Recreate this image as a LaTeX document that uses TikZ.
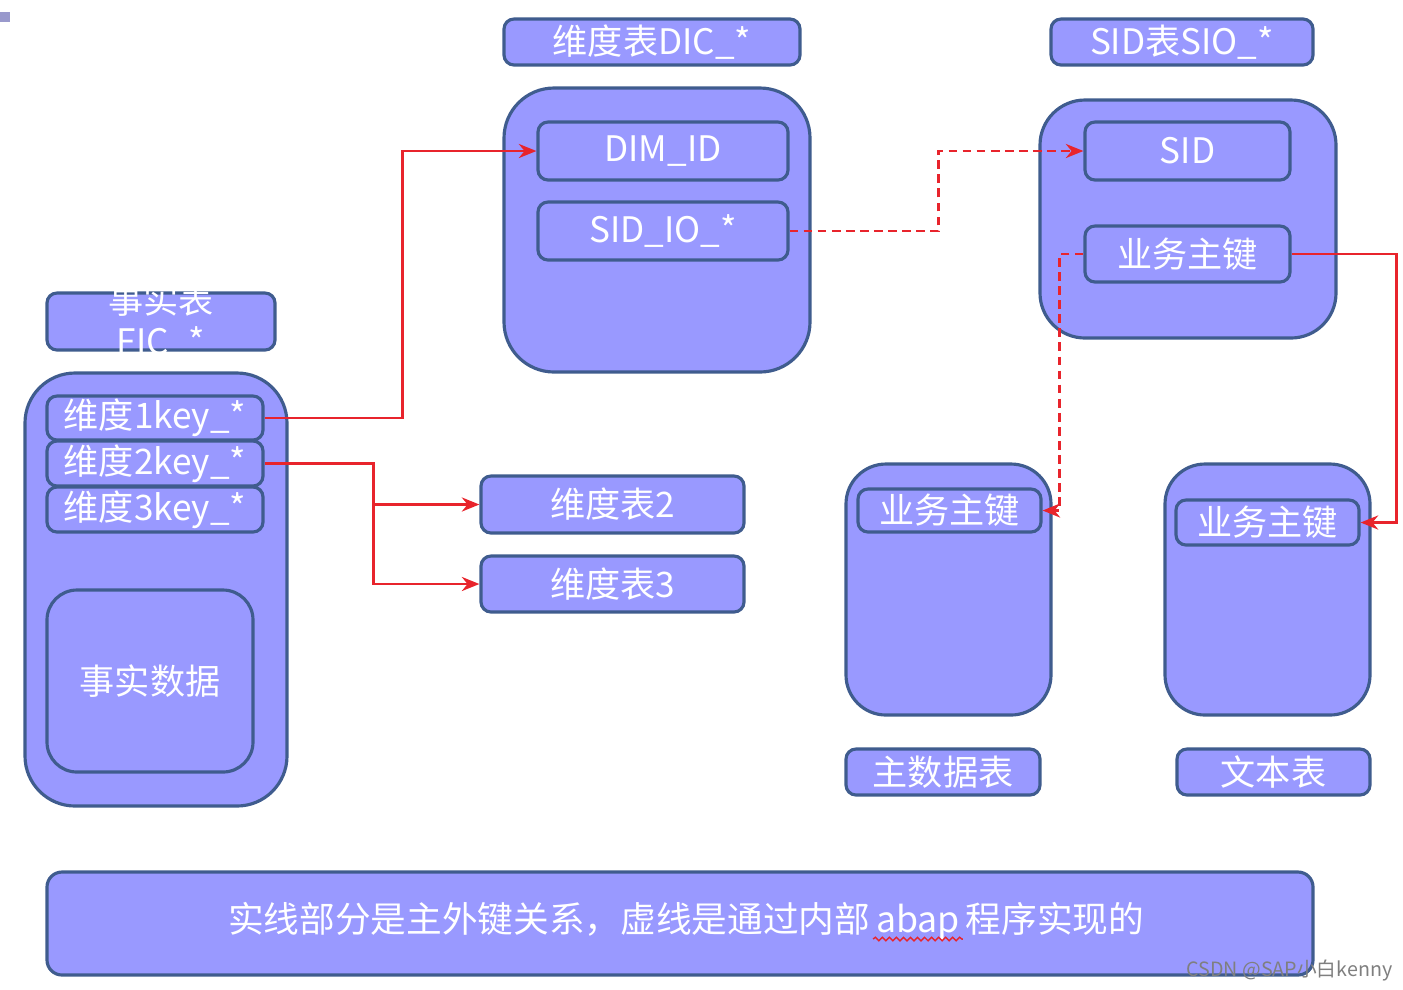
\documentclass[tikz,border=0pt]{standalone}
\usepackage{fontspec}
\setmainfont{Noto Sans CJK SC}
\usetikzlibrary{arrows.meta,decorations.pathmorphing}
\definecolor{boxfill}{HTML}{9999FF}
\definecolor{boxline}{HTML}{3F5C8E}
\definecolor{linkred}{HTML}{E8242C}
\definecolor{markgray}{HTML}{7F7F7F}
\definecolor{cornermark}{HTML}{9999CC}

\begin{document}
\begin{tikzpicture}[font=\fontsize{10}{12}\selectfont, line width=0.9pt,
    tbl/.style={draw=boxline, fill=boxfill, text=white, rounded corners=#1, inner sep=0pt},
    tbl/.default=0.1cm,
    fk/.style={draw=linkred, line width=0.8pt, -{Stealth[length=5pt,width=4pt]}},
    prog/.style={fk, dash pattern=on 2.5pt off 1.5pt},
    notetext/.style={text=white, inner sep=0.4pt, font=\fontsize{10.15}{12}\selectfont}]
        \useasboundingbox (0,0) rectangle (14.03,-9.89);
        \fill[cornermark] (0,-0.12) rectangle (0.10,-0.22);

        % dimension table
        \node[tbl, minimum width=2.96cm, minimum height=0.46cm]
        (dictitle) at (6.52,-0.42) {维度表DIC\_*};
        \node[tbl=0.5cm, minimum width=3.06cm, minimum height=2.84cm]
        (dicbox) at (6.57,-2.30) {};
        \node[tbl, minimum width=2.50cm, minimum height=0.58cm]
        (dimid) at (6.63,-1.51) {DIM\_ID};
        \node[tbl, minimum width=2.50cm, minimum height=0.58cm]
        (sidio) at (6.63,-2.31) {SID\_IO\_*};

        % SID table
        \node[tbl, minimum width=2.62cm, minimum height=0.46cm]
        (sidtitle) at (11.82,-0.42) {SID表SIO\_*};
        \node[tbl=0.45cm, minimum width=2.96cm, minimum height=2.38cm]
        (sidbox) at (11.88,-2.19) {};
        \node[tbl, minimum width=2.05cm, minimum height=0.58cm]
        (sid) at (11.875,-1.51) {SID};
        \node[tbl, minimum width=2.05cm, minimum height=0.56cm]
        (sidkey) at (11.875,-2.54) {业务主键};

        % fact table
        \node[tbl, minimum width=2.28cm, minimum height=0.57cm]
        (facttitle) at (1.61,-3.215) {};
        \node[text=white, align=center, inner sep=0pt, font=\fontsize{10}{11.7}\selectfont]
        (factname) at (facttitle) {事实表\\FIC\_*};
        \node[tbl=0.5cm, minimum width=2.62cm, minimum height=4.33cm]
        (factbox) at (1.56,-5.895) {};
        \node[tbl, minimum width=2.16cm, minimum height=0.44cm]
        (key1) at (1.55,-4.18) {维度1key\_*};
        \node[tbl, minimum width=2.16cm, minimum height=0.45cm]
        (key2) at (1.55,-4.635) {维度2key\_*};
        \node[tbl, minimum width=2.16cm, minimum height=0.45cm]
        (key3) at (1.55,-5.095) {维度3key\_*};
        \node[tbl=0.3cm, minimum width=2.06cm, minimum height=1.82cm]
        (factdata) at (1.50,-6.81) {事实数据};

        % other dimensions
        \node[tbl, minimum width=2.63cm, minimum height=0.57cm]
        (dim2) at (6.125,-5.045) {维度表2};
        \node[tbl, minimum width=2.63cm, minimum height=0.56cm]
        (dim3) at (6.125,-5.84) {维度表3};

        % master data and text tables
        \node[tbl=0.4cm, minimum width=2.05cm, minimum height=2.51cm]
        (mdbox) at (9.485,-5.895) {};
        \node[tbl, minimum width=1.83cm, minimum height=0.43cm]
        (mdkey) at (9.495,-5.105) {业务主键};
        \node[tbl=0.4cm, minimum width=2.05cm, minimum height=2.51cm]
        (txtbox) at (12.675,-5.895) {};
        \node[tbl, minimum width=1.83cm, minimum height=0.45cm]
        (txtkey) at (12.675,-5.225) {业务主键};
        \node[tbl, minimum width=1.94cm, minimum height=0.46cm]
        (mdtitle) at (9.43,-7.72) {主数据表};
        \node[tbl, minimum width=1.93cm, minimum height=0.46cm]
        (txttitle) at (12.735,-7.72) {文本表};

        % note
        \node[tbl=0.15cm, minimum width=12.66cm, minimum height=1.03cm]
        (note) at (6.80,-9.235) {};
        \node[notetext, anchor=base] (abap) at (9.18,-9.32) {abap};
        \node[notetext, anchor=base east] (notel) at (abap.base west)
        {实线部分是主外键关系，虚线是通过内部};
        \node[notetext, anchor=base west] (noter) at (abap.base east) {程序实现的};
        \draw[linkred, line width=0.4pt, decorate,
        decoration={snake, amplitude=0.5pt, segment length=2pt}]
        ([yshift=-2pt]abap.base west) -- ([yshift=-2pt]abap.base east);

        % links
        \draw[fk] (key1.east) -- ++(1.38,0) |- (dimid.west);
        \draw[fk] (key2.east) -- ++(1.09,0) coordinate (split) |- (dim2.west);
        \draw[fk] (split) |- (dim3.west);
        \draw[prog] (sidio.east) -- ++(1.49,0) |- (sid.west);
        \draw[prog] (sidkey.west) -- ++(-0.24,0) |- (mdkey.east);
        \draw[fk] (sidkey.east) -- ++(1.05,0) |- (txtkey.east);

        \node[anchor=base west, text=markgray, inner sep=0pt,
        font=\fontsize{5.6}{7}\selectfont] (mark) at (11.85,-9.76) {CSDN @SAP小白kenny};
    \end{tikzpicture}
\end{document}
